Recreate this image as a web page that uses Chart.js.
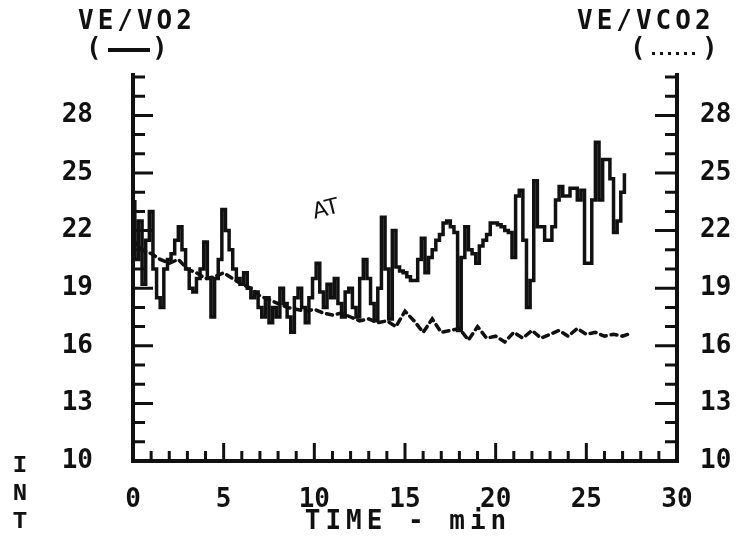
<!DOCTYPE html>
<html>
<head>
<meta charset="utf-8">
<script src="https://cdn.jsdelivr.net/npm/chart.js@4/dist/chart.umd.min.js"></script>
<style>
  html, body { margin: 0; padding: 0; background: #fff; }
  #wrap { width: 744px; height: 549px; }
</style>
</head>
<body>
<div id="wrap"><canvas id="chart" width="744" height="549"></canvas></div>
<script>
// VE/VO2 (solid), sampled every 0.2 min
const veVo2Times = [
  0.0, 0.2, 0.4, 0.6, 0.8, 1.0, 1.2, 1.4, 1.6, 1.8, 2.0, 2.2, 2.4, 2.6, 2.8, 3.0, 3.2, 3.4, 3.6, 3.8,
  4.0, 4.2, 4.4, 4.6, 4.8, 5.0, 5.2, 5.4, 5.6, 5.8, 6.0, 6.2, 6.4, 6.6, 6.8, 7.0, 7.2, 7.4, 7.6, 7.8,
  8.0, 8.2, 8.4, 8.6, 8.8, 9.0, 9.2, 9.4, 9.6, 9.8, 10.0, 10.2, 10.4, 10.6, 10.8, 11.0, 11.2, 11.4, 11.6, 11.8,
  12.0, 12.2, 12.4, 12.6, 12.8, 13.0, 13.2, 13.4, 13.6, 13.8, 14.0, 14.2, 14.4, 14.6, 14.8, 15.0, 15.2, 15.4, 15.6, 15.8,
  16.0, 16.2, 16.4, 16.6, 16.8, 17.0, 17.2, 17.4, 17.6, 17.8, 18.0, 18.2, 18.4, 18.6, 18.8, 19.0, 19.2, 19.4, 19.6, 19.8,
  20.0, 20.2, 20.4, 20.6, 20.8, 21.0, 21.2, 21.4, 21.6, 21.8, 22.0, 22.2, 22.4, 22.6, 22.8, 23.0, 23.2, 23.4, 23.6, 23.8,
  24.0, 24.2, 24.4, 24.6, 24.8, 25.0, 25.2, 25.4, 25.6, 25.8, 26.0, 26.2, 26.4, 26.6, 26.8, 27.0, 27.2
];
const veVo2 = [
  23.5, 20.5, 22.5, 19.2, 21.5, 23.0, 20.0, 18.5, 18.0, 20.0, 20.5, 20.8, 21.5, 22.2, 21.0, 20.0, 19.0, 18.8, 19.5, 20.0,
  21.4, 19.5, 17.5, 19.5, 20.5, 23.1, 22.0, 21.0, 20.0, 19.5, 19.2, 19.8, 19.0, 18.5, 18.8, 18.0, 17.5, 18.5, 17.2, 18.0,
  17.5, 19.0, 18.2, 17.5, 16.7, 18.5, 19.0, 18.0, 17.2, 18.5, 19.5, 20.3, 18.8, 18.0, 19.2, 18.5, 19.5, 18.2, 17.5, 18.8,
  19.0, 18.0, 17.5, 19.5, 20.5, 19.5, 18.2, 17.3, 19.0, 22.7, 20.0, 17.4, 22.0, 20.1, 19.9, 19.8, 19.6, 19.4, 19.4, 20.5,
  21.6, 19.8, 20.6, 21.0, 21.5, 21.8, 22.4, 22.5, 22.2, 21.9, 16.8, 20.6, 22.2, 21.0, 20.8, 20.3, 21.2, 21.5, 21.8, 22.4,
  22.4, 22.3, 22.2, 22.0, 21.9, 20.6, 23.8, 24.1, 21.5, 18.0, 19.4, 24.6, 22.2, 22.2, 21.5, 21.5, 22.2, 23.6, 24.3, 23.8,
  23.8, 24.2, 24.2, 23.6, 24.1, 20.3, 20.3, 23.6, 26.6, 23.6, 25.7, 25.7, 24.7, 21.9, 22.5, 24.0, 24.9
];

// VE/VCO2 (dotted), sampled every 0.5 min
const veVco2Times = [
  0.0, 0.5, 1.0, 1.5, 2.0, 2.5, 3.0, 3.5, 4.0, 4.5, 5.0, 5.5, 6.0, 6.5, 7.0, 7.5, 8.0, 8.5, 9.0, 9.5,
  10.0, 10.5, 11.0, 11.5, 12.0, 12.5, 13.0, 13.5, 14.0, 14.5, 15.0, 15.5, 16.0, 16.5, 17.0, 17.5, 18.0, 18.5, 19.0, 19.5,
  20.0, 20.5, 21.0, 21.5, 22.0, 22.5, 23.0, 23.5, 24.0, 24.5, 25.0, 25.5, 26.0, 26.5, 27.0, 27.3
];
const veVco2 = [
  21.5, 21.0, 20.8, 20.5, 20.3, 20.5, 20.0, 19.8, 19.5, 19.6, 19.8, 19.5, 19.2, 19.0, 18.6, 18.4, 18.2, 18.0, 17.9, 17.8,
  17.9, 17.7, 17.6, 17.7, 17.5, 17.3, 17.4, 17.2, 17.3, 17.0, 17.8, 17.3, 16.7, 17.4, 16.7, 16.8, 16.9, 16.3, 17.0, 16.4,
  16.5, 16.2, 16.7, 16.4, 16.8, 16.4, 16.6, 16.8, 16.5, 16.9, 16.6, 16.7, 16.5, 16.6, 16.5, 16.6
];

const timeTicks = [0, 5, 10, 15, 20, 25, 30];
const ratioTicks = [10, 13, 16, 19, 22, 25, 28];

const INK = '#111';
const MONO = 'bold 26px "DejaVu Sans Mono"';

const framePlugin = {
  id: 'frame',
  afterDatasetsDraw(chart) {
    const { ctx, chartArea: a, scales } = chart;
    const xs = scales.x, yl = scales.yLeft, yr = scales.yRight;
    ctx.save();
    ctx.strokeStyle = INK;
    ctx.lineWidth = 4;
    ctx.beginPath();
    ctx.moveTo(a.left, a.top - 4);
    ctx.lineTo(a.left, a.bottom);
    ctx.lineTo(a.right, a.bottom);
    ctx.lineTo(a.right, a.top - 4);
    ctx.stroke();

    // inward ticks, one per unit, longer on labelled values
    ctx.lineWidth = 3;
    ctx.beginPath();
    for (let v = yl.min + 1; v <= yl.max; v++) {
      const major = ratioTicks.includes(v);
      const py = yl.getPixelForValue(v);
      ctx.moveTo(a.left, py);
      ctx.lineTo(a.left + (major ? 20 : 12), py);
      const ry = yr.getPixelForValue(v);
      ctx.moveTo(a.right, ry);
      ctx.lineTo(a.right - (major ? 22 : 12), ry);
    }
    for (let t = xs.min + 1; t < xs.max; t++) {
      const major = timeTicks.includes(t);
      const px = xs.getPixelForValue(t);
      ctx.moveTo(px, a.bottom);
      ctx.lineTo(px, a.bottom - (major ? 18 : 10));
    }
    ctx.stroke();
    ctx.restore();
  },
  afterDraw(chart) {
    const { ctx, chartArea: a } = chart;
    ctx.save();
    ctx.fillStyle = INK;
    ctx.strokeStyle = INK;
    ctx.font = MONO;
    ctx.textBaseline = 'middle';
    ctx.letterSpacing = '4px';
    ctx.fillText('VE/VO2', 78, 22);
    ctx.fillText('VE/VCO2', 577, 22);

    // axis title, widely spaced like the plotter font
    ctx.letterSpacing = '5px';
    ctx.textAlign = 'center';
    ctx.fillText('TIME - min', (a.left + a.right) / 2 + 3, 522);
    ctx.textAlign = 'left';
    ctx.letterSpacing = '0px';

    // legend keys
    ctx.fillText('(', 86, 49);
    ctx.fillText(')', 152, 49);
    ctx.lineWidth = 4;
    ctx.beginPath();
    ctx.moveTo(108, 50);
    ctx.lineTo(150, 50);
    ctx.stroke();
    ctx.fillText('(', 630, 49);
    ctx.fillText(')', 702, 49);
    ctx.beginPath();
    for (let i = 0; i < 6; i++) ctx.rect(652 + i * 8, 52, 3, 3);
    ctx.fill();

    // vertical letters at lower left
    ctx.font = 'bold 24px "Liberation Mono"';
    ctx.textAlign = 'center';
    ctx.fillText('I', 20, 466);
    ctx.fillText('N', 20, 494);
    ctx.fillText('T', 20, 522);

    // handwritten AT mark
    ctx.font = '22px "DejaVu Sans"';
    ctx.translate(326, 210);
    ctx.rotate(-0.25);
    ctx.fillText('AT', 0, 0);
    ctx.restore();
  }
};

const ctx = document.getElementById('chart').getContext('2d');
new Chart(ctx, {
  type: 'line',
  data: {
    datasets: [
      {
        label: 'VE/VO2',
        data: veVo2Times.map((t, i) => ({ x: t, y: veVo2[i] })),
        yAxisID: 'yLeft',
        borderColor: INK,
        borderWidth: 3.5,
        stepped: 'middle',
        pointRadius: 0,
        fill: false
      },
      {
        label: 'VE/VCO2',
        data: veVco2Times.map((t, i) => ({ x: t, y: veVco2[i] })),
        yAxisID: 'yRight',
        borderColor: INK,
        borderWidth: 3.5,
        borderDash: [6, 5],
        borderCapStyle: 'round',
        pointRadius: 0,
        fill: false
      }
    ]
  },
  options: {
    responsive: false,
    animation: false,
    layout: { padding: { top: 77, left: 0, right: 0, bottom: 0 } },
    plugins: { legend: { display: false }, tooltip: { enabled: false } },
    scales: {
      x: {
        type: 'linear',
        min: 0,
        max: 30,
        afterBuildTicks: s => { s.ticks = timeTicks.map(v => ({ value: v })); },
        afterFit: s => { s.height = 88; },
        grid: { display: false, drawTicks: false },
        border: { display: false },
        ticks: { color: INK, font: { family: 'DejaVu Sans Mono', size: 26, weight: 'bold' }, padding: 24, maxRotation: 0 }
      },
      yLeft: {
        position: 'left',
        min: 10,
        max: 30,
        afterBuildTicks: s => { s.ticks = ratioTicks.map(v => ({ value: v })); },
        afterFit: s => { s.width = 133; },
        grid: { display: false, drawTicks: false },
        border: { display: false },
        ticks: { color: INK, font: { family: 'DejaVu Sans Mono', size: 26, weight: 'bold' }, padding: 40 }
      },
      yRight: {
        position: 'right',
        min: 10,
        max: 30,
        afterBuildTicks: s => { s.ticks = ratioTicks.map(v => ({ value: v })); },
        afterFit: s => { s.width = 67; },
        grid: { display: false, drawTicks: false },
        border: { display: false },
        ticks: { color: INK, font: { family: 'DejaVu Sans Mono', size: 26, weight: 'bold' }, padding: 23 }
      }
    }
  },
  plugins: [framePlugin]
});
</script>
</body>
</html>
